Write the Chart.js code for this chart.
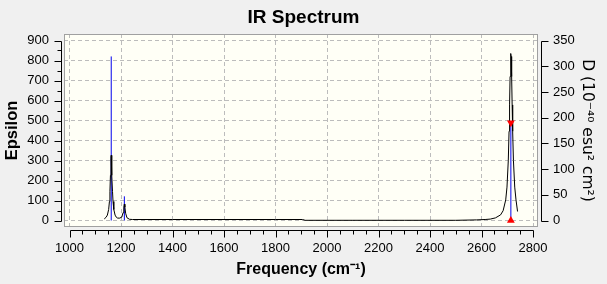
<!DOCTYPE html>
<html><head><meta charset="utf-8">
<script src="https://cdn.jsdelivr.net/npm/chart.js@4.4.1/dist/chart.umd.min.js"></script>
<style>html,body{margin:0;padding:0;background:#f0f0f0;overflow:hidden}canvas{display:block}</style>
</head><body><canvas id="c" width="607" height="284"></canvas>
<script>
// ---- data ----
const curveFreq = [1135,1142,1147,1152,1155,1157,1159,1161,1162,1163,1165,1167,1169,1172,1177,1182,1187,1195,1203,1208,1211,1213,1215,1218,1223,1233,1245,1400,1600,1800,1905,1915,2100,2300,2500,2580,2614,2634,2654,2674,2684,2694,2699,2704,2707,2709,2711,2713,2714,2715,2717,2719,2721,2724,2729,2734,2740];
const curveEps  = [8,16,27,55,95,146,226,311,326,311,226,146,95,55,27,16,12,12,17,39,67,82,67,36,14,6,5,5,5,5,5,1,1,1,1,3,5,7,13,28,49,103,167,300,446,578,720,820,835,820,720,578,446,300,167,103,45];
const stickFreq = [1162,1213,2714];
const stickD    = [319,47,190];
const markFreq  = [2714,2714];
const markD     = [190,0];
const freqTicks = [1000,1200,1400,1600,1800,2000,2200,2400,2600,2800];
const epsTicks  = [0,100,200,300,400,500,600,700,800,900];
const dTicks    = [0,50,100,150,200,250,300,350];
const minorStep = 50;

const FONT = 'Liberation Sans, Arial, sans-serif';
Chart.defaults.font.family = FONT;
Chart.defaults.color = '#000';

const curve = curveFreq.map((f,i)=>({x:f,y:curveEps[i]}));
const sticks = [];
stickFreq.forEach((f,i)=>{ sticks.push({x:f,y:0},{x:f,y:stickD[i]},{x:f,y:null}); });

const fixTicks = arr => (scale => { scale.ticks = arr.map(v=>({value:v})); });

const frame = {
  id:'frame',
  beforeDraw(chart){
    const {ctx, chartArea:a} = chart;
    ctx.save();
    ctx.fillStyle='#f0f0f0'; ctx.fillRect(0,0,chart.width,chart.height);
    ctx.fillStyle='#fffff6'; ctx.fillRect(a.left,a.top,a.right-a.left,a.bottom-a.top);
    ctx.restore();
  },
  afterDraw(chart){
    const {ctx, chartArea:a, scales} = chart;
    const X=scales.x, Y=scales.y, Y2=scales.y2;
    const r = v => Math.round(v)+0.5;
    ctx.save();
    ctx.lineWidth=1;
    ctx.strokeStyle='#a0a0a0';
    ctx.strokeRect(a.left+0.5,a.top+0.5,a.right-a.left-1,a.bottom-a.top-1);
    ctx.strokeStyle='#000';
    ctx.beginPath();
    const lx = a.left-2.5;
    ctx.moveTo(lx, r(Y.getPixelForValue(epsTicks[0]))); ctx.lineTo(lx, r(Y.getPixelForValue(epsTicks[epsTicks.length-1])));
    for(let v=epsTicks[0]; v<=epsTicks[epsTicks.length-1]; v+=minorStep){
      const p=r(Y.getPixelForValue(v)); const len = (v%100===0)?7:4;
      ctx.moveTo(lx,p); ctx.lineTo(lx-len,p);
    }
    const rx = a.right+3.5;
    ctx.moveTo(rx, r(Y2.getPixelForValue(dTicks[0]))); ctx.lineTo(rx, r(Y2.getPixelForValue(dTicks[dTicks.length-1])));
    dTicks.forEach(v=>{const p=r(Y2.getPixelForValue(v)); ctx.moveTo(rx,p); ctx.lineTo(rx+7,p);});
    const by = a.bottom+3.5;
    ctx.moveTo(r(X.getPixelForValue(freqTicks[0])), by); ctx.lineTo(r(X.getPixelForValue(freqTicks[freqTicks.length-1])), by);
    for(let v=freqTicks[0]; v<=freqTicks[freqTicks.length-1]; v+=minorStep){
      const p=r(X.getPixelForValue(v)); const len=(v%200===0)?7:4;
      ctx.moveTo(p,by); ctx.lineTo(p,by+len);
    }
    ctx.stroke();
    ctx.restore();
  }
};

const gridCfg = {color:'#bcbcbc', lineWidth:1, drawTicks:false};
new Chart(document.getElementById('c'), {
  data:{datasets:[
    {type:'scatter', data: markFreq.map((f,i)=>({x:f,y:markD[i]})), yAxisID:'y2', pointStyle:'triangle',
     pointRadius:4.5, pointRotation:[180,0], backgroundColor:'#ff0000', borderColor:'#ff0000', borderWidth:0, order:0},
    {type:'line', data: curve, yAxisID:'y', borderColor:'#000', borderWidth:1, pointRadius:0, tension:0, order:1},
    {type:'line', data: sticks, yAxisID:'y2', borderColor:'#0000ee', borderWidth:1, pointRadius:0, spanGaps:false, order:2}
  ]},
  options:{
    responsive:false, animation:false, devicePixelRatio:1,
    layout:{padding:0},
    plugins:{
      legend:{display:false}, tooltip:{enabled:false},
      title:{display:true, text:'IR Spectrum', color:'#000', font:{size:19, weight:'bold'}, padding:{top:6,bottom:5.2}}
    },
    scales:{
      x:{type:'linear', position:'bottom', min:978.6, max:2819.4,
         afterBuildTicks: fixTicks(freqTicks), afterFit: s=>{s.height=57;},
         grid:{...gridCfg}, border:{display:false, dash:[4,3]},
         ticks:{padding:14, font:{size:13}, callback:v=>String(v)},
         title:{display:true, text:'Frequency (cm⁻¹)', font:{size:16, weight:'bold'}, padding:{top:0,bottom:4.4}}},
      y:{type:'linear', position:'left', min:-32.5, max:932.5,
         afterBuildTicks: fixTicks(epsTicks), afterFit: s=>{s.width=64;},
         grid:{...gridCfg}, border:{display:false, dash:[4,3]},
         ticks:{padding:15, font:{size:13}, callback:v=>String(v)},
         title:{display:true, text:'Epsilon', font:{size:16.5, weight:'bold'}, padding:{top:3,bottom:0}}},
      y2:{type:'linear', position:'right', min:-32.5*350/900, max:932.5*350/900,
         afterBuildTicks: fixTicks(dTicks), afterFit: s=>{s.width=69;},
         grid:{drawOnChartArea:false, drawTicks:false}, border:{display:false},
         ticks:{padding:15, font:{size:13}, callback:v=>String(v)},
         title:{display:true, text:'D (10⁻⁴⁰ esu² cm²)', font:{family:'DejaVu Sans', size:15.5}, padding:{top:11,bottom:0}}}
    }
  },
  plugins:[frame]
});
</script></body></html>
